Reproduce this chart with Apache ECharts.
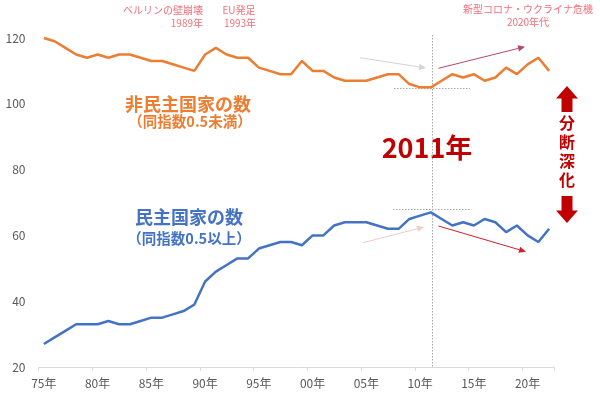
<!DOCTYPE html>
<html>
<head>
<meta charset="utf-8">
<script src="https://cdn.jsdelivr.net/npm/echarts@6/dist/echarts.min.js"></script>
<style>html,body{margin:0;padding:0;background:#fff}#c{width:600px;height:396px}</style>
</head>
<body>
<div id="c"></div>
<script>
var years = ['1975','1976','1977','1978','1979','1980','1981','1982','1983','1984','1985','1986','1987','1988','1989','1990','1991','1992','1993','1994','1995','1996','1997','1998','1999','2000','2001','2002','2003','2004','2005','2006','2007','2008','2009','2010','2011','2012','2013','2014','2015','2016','2017','2018','2019','2020','2021','2022'];
var nonDemocracies = [120,119,117,115,114,115,114,115,115,114,113,113,112,111,110,115,117,115,114,114,111,110,109,109,113,110,110,108,107,107,107,108,109,109,106,105,105,107,109,108,109,107,108,111,109,112,114,110];
var democracies = [27,29,31,33,33,33,34,33,33,34,35,35,36,37,39,46,49,51,53,53,56,57,58,58,57,60,60,63,64,64,64,63,62,62,65,66,67,65,63,64,63,65,64,61,63,60,58,62];
var yTicks = {min: 20, max: 120, interval: 20};

var FONT = "'Noto Sans CJK JP', 'Noto Sans', sans-serif";
var ORANGE = '#ed7d31', BLUE = '#4472c4', DARKRED = '#c00000', PINK = '#f4707a';

function arrow(x1, y1, x2, y2, color, w) {
  var ang = Math.atan2(y2 - y1, x2 - x1);
  var L = 7, H = 3.2;
  var bx = x2 - L * Math.cos(ang), by = y2 - L * Math.sin(ang);
  var px = -Math.sin(ang) * H, py = Math.cos(ang) * H;
  return [
    {type: 'line', shape: {x1: x1, y1: y1, x2: bx, y2: by}, style: {stroke: color, lineWidth: w || 1}},
    {type: 'polygon', shape: {points: [[x2, y2], [bx + px, by + py], [bx - px, by - py]]}, style: {fill: color}}
  ];
}
function txt(x, y, text, size, color, weight, align) {
  return {type: 'text', x: x, y: y, style: {text: text, font: (weight || 'normal') + ' ' + size + 'px ' + FONT, fill: color, align: align || 'center', verticalAlign: 'middle', lineHeight: size * 1.2}};
}
var dotted = {stroke: '#a6a6a6', lineWidth: 1, lineDash: [1.5, 1.5]};

var graphics = [
  // top annotations
  txt(203, 10.5, 'ベルリンの壁崩壊', 10, PINK, 'normal', 'right'),
  txt(203, 23.5, '1989年', 10, PINK, 'normal', 'right'),
  txt(239, 10.5, 'EU発足', 10, PINK),
  txt(240, 23.5, '1993年', 10, PINK),
  txt(528, 9, '新型コロナ・ウクライナ危機', 10, PINK),
  txt(528, 22.5, '2020年代', 10, PINK),
  // series labels
  txt(188, 104, '非民主国家の数', 18, ORANGE, 'bold'),
  txt(190, 121.5, '（同指数0.5未満）', 14.5, ORANGE, 'bold'),
  txt(189, 217.5, '民主国家の数', 18, BLUE, 'bold'),
  txt(189, 238.5, '（同指数0.5以上）', 14.5, BLUE, 'bold'),
  txt(427, 148, '2011年', 27, DARKRED, 'bold'),
  // 分断深化
  {type: 'polygon', shape: {points: [[567,86],[578,98.5],[572.5,98.5],[572.5,112],[561.5,112],[561.5,98.5],[556,98.5]]}, style: {fill: DARKRED}},
  {type: 'text', x: 567, y: 151, style: {text: '分\n断\n深\n化', font: 'bold 16px ' + FONT, fill: DARKRED, align: 'center', verticalAlign: 'middle', lineHeight: 19}},
  {type: 'polygon', shape: {points: [[561.5,196],[572.5,196],[572.5,210.5],[578,210.5],[567,223],[556,210.5],[561.5,210.5]]}, style: {fill: DARKRED}},
  // dotted reference lines
  {type: 'line', shape: {x1: 432.5, y1: 35, x2: 432.5, y2: 367}, style: dotted},
  {type: 'line', shape: {x1: 394, y1: 88.5, x2: 470, y2: 88.5}, style: dotted},
  {type: 'line', shape: {x1: 393, y1: 209.5, x2: 470, y2: 209.5}, style: dotted}
];
graphics = graphics
  .concat(arrow(360, 57.7, 426, 68, '#d4d4d4'))
  .concat(arrow(438.5, 68.3, 525, 46.7, '#b5476b'))
  .concat(arrow(363, 242.7, 424, 227, '#f2caca'))
  .concat(arrow(438.5, 226, 526, 251.7, '#d02030'));

var chart = echarts.init(document.getElementById('c'), null, {renderer: 'canvas'});
chart.setOption({
  animation: false,
  backgroundColor: '#ffffff',
  textStyle: {fontFamily: FONT},
  grid: {left: 38.5, right: 45.5, top: 38, bottom: 29, containLabel: false},
  xAxis: {
    type: 'category',
    data: years,
    boundaryGap: true,
    axisLine: {lineStyle: {color: '#d9d9d9', width: 1}},
    axisTick: {show: true, interval: 4, length: 4, lineStyle: {color: '#d9d9d9'}},
    axisLabel: {interval: 4, color: '#595959', fontSize: 12, margin: 10, fontFamily: FONT,
      formatter: function (v) { return v.slice(2) + '年'; }}
  },
  yAxis: {
    type: 'value',
    min: yTicks.min, max: yTicks.max, interval: yTicks.interval,
    axisLine: {show: false}, axisTick: {show: false}, splitLine: {show: false},
    axisLabel: {color: '#595959', fontSize: 12, margin: 13, fontFamily: FONT}
  },
  series: [
    {type: 'line', name: '非民主国家の数', data: nonDemocracies, showSymbol: false, symbol: 'none',
      lineStyle: {color: ORANGE, width: 2.5}, itemStyle: {color: ORANGE}},
    {type: 'line', name: '民主国家の数', data: democracies, showSymbol: false, symbol: 'none',
      lineStyle: {color: BLUE, width: 2.5}, itemStyle: {color: BLUE}}
  ],
  graphic: graphics
});
</script>
</body>
</html>
